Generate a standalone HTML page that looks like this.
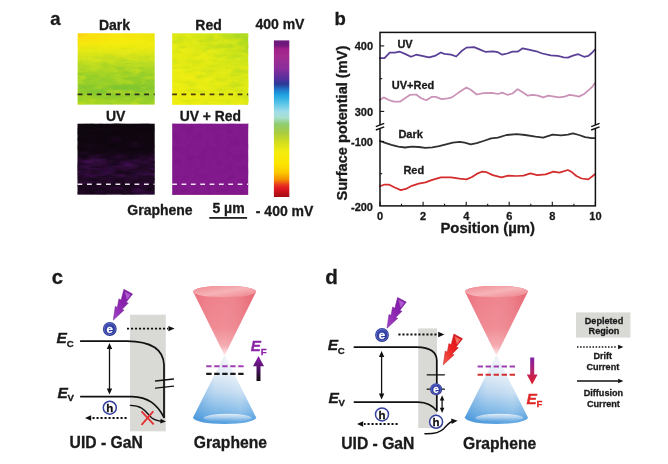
<!DOCTYPE html>
<html><head><meta charset="utf-8"><title>Figure</title>
<style>
html,body{margin:0;padding:0;background:#fff;}
body{width:668px;height:464px;overflow:hidden;}
svg{display:block;}
svg text{font-family:"Liberation Sans",sans-serif;font-weight:bold;fill:#1a1a1a;stroke:#1a1a1a;stroke-width:0.3px;}
</style></head><body>
<svg width="668" height="464" viewBox="0 0 668 464">
<defs>
<linearGradient id="gDark" x1="0" y1="0" x2="0" y2="1">
<stop offset="0" stop-color="#fbe60c"/><stop offset="0.14" stop-color="#f5ee0c"/><stop offset="0.26" stop-color="#e2e816"/><stop offset="0.42" stop-color="#bcdc22"/><stop offset="0.62" stop-color="#98d02a"/><stop offset="0.82" stop-color="#86c830"/><stop offset="1" stop-color="#a2d426"/>
</linearGradient>
<linearGradient id="gDarkL" x1="0" y1="0" x2="1" y2="0">
<stop offset="0" stop-color="#ffc818" stop-opacity="0.75"/><stop offset="0.5" stop-color="#ffd818" stop-opacity="0.15"/><stop offset="1" stop-color="#c0e020" stop-opacity="0.25"/>
</linearGradient>
<linearGradient id="gDarkFade" x1="0" y1="0" x2="0" y2="1">
<stop offset="0" stop-color="#fff" stop-opacity="1"/><stop offset="0.22" stop-color="#fff" stop-opacity="0"/>
</linearGradient>
<linearGradient id="gDarkFadeG" x1="0" y1="0" x2="0" y2="1"><stop offset="0" stop-color="#fff" stop-opacity="0"/><stop offset="0.18" stop-color="#fff" stop-opacity="0.1"/><stop offset="0.45" stop-color="#fff" stop-opacity="1"/><stop offset="1" stop-color="#fff" stop-opacity="1"/></linearGradient>
<mask id="mDarkG"><rect x="77.7" y="33.3" width="77" height="71.3" fill="url(#gDarkFadeG)"/></mask>
<mask id="mDark"><rect x="77.7" y="33.3" width="77" height="71.3" fill="url(#gDarkFade)"/></mask>
<linearGradient id="gRed" x1="0" y1="1" x2="1" y2="0">
<stop offset="0" stop-color="#f0ee10"/><stop offset="0.45" stop-color="#e2ea14"/><stop offset="0.82" stop-color="#cce41a"/><stop offset="1" stop-color="#a0d626"/>
</linearGradient>
<linearGradient id="gUV" x1="0" y1="0" x2="0" y2="1">
<stop offset="0" stop-color="#0e070e"/><stop offset="0.38" stop-color="#110711"/><stop offset="0.56" stop-color="#220a28"/><stop offset="0.76" stop-color="#240a2a"/><stop offset="0.9" stop-color="#19081c"/><stop offset="1" stop-color="#1f0923"/>
</linearGradient>
<linearGradient id="gBar" x1="0" y1="0" x2="0" y2="1">
<stop offset="0" stop-color="#6a1a7a"/><stop offset="0.03" stop-color="#72187c"/><stop offset="0.055" stop-color="#a0208a"/><stop offset="0.10" stop-color="#a42c90"/><stop offset="0.18" stop-color="#8a2e9c"/><stop offset="0.24" stop-color="#5a2e9e"/><stop offset="0.28" stop-color="#2a3c98"/><stop offset="0.315" stop-color="#2078cc"/><stop offset="0.35" stop-color="#20a4e0"/><stop offset="0.405" stop-color="#5cc6e8"/><stop offset="0.455" stop-color="#a0dce8"/><stop offset="0.492" stop-color="#a8e0d0"/><stop offset="0.535" stop-color="#90cc70"/><stop offset="0.59" stop-color="#a8cc40"/><stop offset="0.645" stop-color="#d0dc20"/><stop offset="0.71" stop-color="#f4ec10"/><stop offset="0.79" stop-color="#fce400"/><stop offset="0.845" stop-color="#fcc800"/><stop offset="0.888" stop-color="#f49000"/><stop offset="0.922" stop-color="#e83820"/><stop offset="0.945" stop-color="#e01820"/><stop offset="0.98" stop-color="#b81018"/><stop offset="1" stop-color="#a80c14"/>
</linearGradient>
<filter id="nzY" x="0" y="0" width="1" height="1" color-interpolation-filters="sRGB"><feTurbulence type="fractalNoise" baseFrequency="0.07 0.2" numOctaves="3" seed="4"/><feColorMatrix type="matrix" values="0 0 0 0 0.96  0 0 0 0 0.95  0 0 0 0 0.08  2.6 0 0 0 -1.15"/></filter>
<filter id="nzG" x="0" y="0" width="1" height="1" color-interpolation-filters="sRGB"><feTurbulence type="fractalNoise" baseFrequency="0.07 0.2" numOctaves="3" seed="11"/><feColorMatrix type="matrix" values="0 0 0 0 0.42  0 0 0 0 0.74  0 0 0 0 0.2  2.4 0 0 0 -1.15"/></filter>
<filter id="nzP" x="0" y="0" width="1" height="1" color-interpolation-filters="sRGB"><feTurbulence type="fractalNoise" baseFrequency="0.06 0.22" numOctaves="3" seed="7"/><feColorMatrix type="matrix" values="0 0 0 0 0.36  0 0 0 0 0.07  0 0 0 0 0.46  3.0 0 0 0 -1.3"/></filter>
<filter id="nzK" x="0" y="0" width="1" height="1" color-interpolation-filters="sRGB"><feTurbulence type="fractalNoise" baseFrequency="0.08 0.25" numOctaves="3" seed="19"/><feColorMatrix type="matrix" values="0 0 0 0 0.04  0 0 0 0 0.02  0 0 0 0 0.05  2.6 0 0 0 -1.1"/></filter>
<filter id="nzV" x="0" y="0" width="1" height="1" color-interpolation-filters="sRGB"><feTurbulence type="fractalNoise" baseFrequency="0.15 0.15" numOctaves="2" seed="5"/><feColorMatrix type="matrix" values="0 0 0 0 0.42  0 0 0 0 0.06  0 0 0 0 0.48  1.6 0 0 0 -0.7"/></filter>
<linearGradient id="gUVm" x1="0" y1="0" x2="0" y2="1"><stop offset="0" stop-color="#fff" stop-opacity="0.08"/><stop offset="0.38" stop-color="#fff" stop-opacity="0.2"/><stop offset="0.55" stop-color="#fff" stop-opacity="1"/><stop offset="0.8" stop-color="#fff" stop-opacity="0.8"/><stop offset="1" stop-color="#fff" stop-opacity="0.7"/></linearGradient>
<mask id="mUV"><rect x="77.5" y="123.7" width="77.2" height="70.9" fill="url(#gUVm)"/></mask>
<filter id="soft" x="0" y="0" width="668" height="464" filterUnits="userSpaceOnUse" color-interpolation-filters="sRGB"><feGaussianBlur stdDeviation="0.45"/></filter>
<filter id="blurS" x="-10%" y="-30%" width="120%" height="160%"><feGaussianBlur stdDeviation="0.7"/></filter>
<filter id="blur2" x="-20%" y="-20%" width="140%" height="140%"><feGaussianBlur stdDeviation="2.2"/></filter>
<filter id="blur1" x="-20%" y="-20%" width="140%" height="140%"><feGaussianBlur stdDeviation="1.2"/></filter>
<clipPath id="cDark"><rect x="77.7" y="33.3" width="77" height="71.3"/></clipPath>
<clipPath id="cRed"><rect x="172.2" y="33.3" width="76" height="71.5"/></clipPath>
<clipPath id="cUV"><rect x="77.5" y="123.7" width="77.2" height="70.9"/></clipPath>

<linearGradient id="gConeR" x1="0" y1="0" x2="0" y2="1">
<stop offset="0" stop-color="#ec727e"/><stop offset="0.6" stop-color="#ee7e88"/><stop offset="0.86" stop-color="#f4a2a8"/><stop offset="1" stop-color="#fdeeee"/>
</linearGradient>
<linearGradient id="gConeRh" x1="0" y1="0" x2="1" y2="0">
<stop offset="0" stop-color="#e45868" stop-opacity="0.25"/><stop offset="0.4" stop-color="#ffffff" stop-opacity="0.1"/><stop offset="1" stop-color="#dc4858" stop-opacity="0.4"/>
</linearGradient>
<linearGradient id="gConeRtop" x1="0" y1="0" x2="1" y2="1">
<stop offset="0" stop-color="#f08890"/><stop offset="0.5" stop-color="#f6b4b8"/><stop offset="1" stop-color="#ee8088"/>
</linearGradient>
<linearGradient id="gConeB" x1="0" y1="0" x2="0" y2="1">
<stop offset="0" stop-color="#fbfafa"/><stop offset="0.3" stop-color="#e9f0f8"/><stop offset="0.55" stop-color="#c2dbf1"/><stop offset="0.8" stop-color="#86bce8"/><stop offset="1" stop-color="#4c9add"/>
</linearGradient>
<linearGradient id="gConeBh" x1="0" y1="0" x2="1" y2="0">
<stop offset="0" stop-color="#2f86d6" stop-opacity="0.45"/><stop offset="0.35" stop-color="#5aa0e0" stop-opacity="0.08"/><stop offset="0.75" stop-color="#ffffff" stop-opacity="0.12"/><stop offset="1" stop-color="#3a8ad8" stop-opacity="0.18"/>
</linearGradient>
<linearGradient id="gConeBbot" x1="0" y1="0" x2="0" y2="1">
<stop offset="0" stop-color="#f4f8fc" stop-opacity="0.95"/><stop offset="0.45" stop-color="#cfe2f4" stop-opacity="0.7"/><stop offset="1" stop-color="#8cc0ea" stop-opacity="0"/>
</linearGradient>
<linearGradient id="gArrUp" x1="0" y1="1" x2="0" y2="0">
<stop offset="0" stop-color="#101010"/><stop offset="0.45" stop-color="#4a1060"/><stop offset="1" stop-color="#9020b0"/>
</linearGradient>
<linearGradient id="gArrDn" x1="0" y1="0" x2="0" y2="1">
<stop offset="0" stop-color="#8020a8"/><stop offset="0.45" stop-color="#b02470"/><stop offset="1" stop-color="#e41c24"/>
</linearGradient>
<linearGradient id="gBoltP" x1="1" y1="0" x2="0" y2="1">
<stop offset="0" stop-color="#7c1ea4"/><stop offset="0.5" stop-color="#8a22ae"/><stop offset="1" stop-color="#a444c8"/>
</linearGradient>
<linearGradient id="gBoltR" x1="1" y1="0" x2="0" y2="1">
<stop offset="0" stop-color="#d01018"/><stop offset="0.5" stop-color="#ec2020"/><stop offset="1" stop-color="#f06050"/>
</linearGradient>
<radialGradient id="gE" cx="0.4" cy="0.35" r="0.7">
<stop offset="0" stop-color="#3c4cb4"/><stop offset="1" stop-color="#26328e"/>
</radialGradient>

<g id="cone">
  <!-- upper red cone, centered at x=0, apex y=355 -->
  <path d="M-31.5,291.6 L0,355.4 L31.5,291.6 A31.5,5.7 0 0 0 -31.5,291.6 Z" fill="url(#gConeR)"/>
  <path d="M-31.5,291.6 L0,355.4 L31.5,291.6 A31.5,5.7 0 0 0 -31.5,291.6 Z" fill="url(#gConeRh)"/>
  <ellipse cx="0" cy="291.6" rx="31.5" ry="5.7" fill="url(#gConeRtop)"/>
  <!-- lower blue cone -->
  <path d="M0,354.8 L-31.5,417.6 A31.5,6.4 0 0 0 31.5,417.6 Z" fill="url(#gConeB)"/>
  <path d="M0,354.8 L-31.5,417.6 A31.5,6.4 0 0 0 31.5,417.6 Z" fill="url(#gConeBh)"/>
  <ellipse cx="3" cy="418" rx="24" ry="4.2" fill="url(#gConeBbot)" filter="url(#blurS)" opacity="0.9"/>
</g>
<path id="bolt" d="M0,0 L2.0,-13.8 L4.0,-12.6 L5.6,-21.2 L7.8,-20 L10.6,-30.8 L19.3,-26.1 L12.8,-17.8 L15.0,-17.0 L8.6,-10.6 L10.8,-10.0 Z"/>
<path id="bolthl" d="M11.4,-28.6 L17.4,-25.4 L13.6,-20.4 Z"/>
<g id="elec"><circle r="6.9" fill="url(#gE)"/><circle r="5.6" fill="none" stroke="#8a96e0" stroke-width="0.7" opacity="0.7"/><text x="0" y="3.9" text-anchor="middle" font-size="11.5" style="fill:#fff;stroke:#fff">e</text></g>
<g id="hole"><circle r="6.5" fill="#fff" stroke="#34409e" stroke-width="1.5"/><text x="0" y="4.2" text-anchor="middle" font-size="11.5" style="fill:#111;stroke:#111">h</text></g>
<path id="ah" d="M0,0 L-6.2,-2.7 L-6.2,2.7 Z" fill="#111"/>
</defs>

<rect width="668" height="464" fill="#fff"/>
<g filter="url(#soft)">

<!-- ===== panel a ===== -->
<text x="50.2" y="25" font-size="18.5">a</text>
<text x="114.5" y="30" font-size="14" text-anchor="middle">Dark</text>
<text x="208.5" y="30" font-size="14" text-anchor="middle">Red</text>
<text x="115.7" y="121.4" font-size="14" text-anchor="middle">UV</text>
<text x="210.4" y="121.4" font-size="13.9" text-anchor="middle">UV + Red</text>
<text x="255.4" y="28.8" font-size="14">400 mV</text>
<text x="127.3" y="215.4" font-size="14">Graphene</text>
<text x="212.4" y="212.7" font-size="14">5 µm</text>
<rect x="209.3" y="217" width="37.8" height="1.8" fill="#222"/>
<text x="255.8" y="215.6" font-size="14">- 400 mV</text>

<!-- Dark -->
<rect x="77.7" y="33.3" width="77" height="71.3" fill="url(#gDark)"/>
<rect x="77.7" y="33.3" width="77" height="71.3" fill="url(#gDarkL)" mask="url(#mDark)"/>
<g clip-path="url(#cDark)" filter="url(#blur2)" opacity="0.55">
<ellipse cx="92" cy="58" rx="14" ry="2.2" fill="#e0e820"/><ellipse cx="128" cy="52" rx="12" ry="2" fill="#e4ea20"/><ellipse cx="112" cy="69" rx="10" ry="2" fill="#c8e020"/><ellipse cx="140" cy="75" rx="12" ry="2.2" fill="#78c434"/><ellipse cx="98" cy="82" rx="12" ry="2" fill="#a8d828"/><ellipse cx="126" cy="88" rx="14" ry="2.5" fill="#74c236"/><ellipse cx="90" cy="100" rx="10" ry="2" fill="#b8dc20"/>
</g>
<rect x="77.7" y="33.3" width="77" height="71.3" filter="url(#nzY)" opacity="0.38"/>
<g mask="url(#mDarkG)"><rect x="77.7" y="33.3" width="77" height="71.3" filter="url(#nzG)" opacity="0.32"/></g>
<line x1="77.7" y1="94.3" x2="154.7" y2="94.3" stroke="#2c3018" stroke-width="1.7" stroke-dasharray="4.8 4.7"/>

<!-- Red -->
<rect x="172.2" y="33.3" width="76" height="71.5" fill="url(#gRed)"/>
<g clip-path="url(#cRed)" filter="url(#blur2)" opacity="0.6">
<ellipse cx="186" cy="50" rx="8" ry="3" fill="#f2ee18"/><ellipse cx="205" cy="60" rx="9" ry="3" fill="#eeee18"/><ellipse cx="190" cy="77" rx="10" ry="3" fill="#f4ee14"/><ellipse cx="224" cy="72" rx="8" ry="3" fill="#e8ec18"/><ellipse cx="236" cy="45" rx="10" ry="4" fill="#a4d624"/><ellipse cx="214" cy="41" rx="9" ry="2.5" fill="#c4e01c"/><ellipse cx="236" cy="90" rx="8" ry="3" fill="#cce41c"/><ellipse cx="200" cy="99" rx="12" ry="2.5" fill="#eeee14"/>
</g>
<rect x="172.2" y="33.3" width="76" height="71.5" filter="url(#nzY)" opacity="0.55"/>
<rect x="172.2" y="33.3" width="76" height="71.5" filter="url(#nzG)" opacity="0.22"/>
<line x1="172.2" y1="94.3" x2="248.2" y2="94.3" stroke="#4a3c10" stroke-width="1.7" stroke-dasharray="4.75 4.6"/>

<!-- UV -->
<rect x="77.5" y="123.7" width="77.2" height="70.9" fill="url(#gUV)"/>
<g clip-path="url(#cUV)" filter="url(#blur2)" opacity="0.5">
<ellipse cx="96" cy="160.5" rx="11" ry="3.2" fill="#5a1470"/><ellipse cx="84" cy="170" rx="8" ry="5" fill="#3c0e4a"/><ellipse cx="128" cy="166" rx="12" ry="3" fill="#43104f"/><ellipse cx="146" cy="160" rx="7" ry="2.5" fill="#4a1258"/><ellipse cx="116" cy="139" rx="5" ry="1.6" fill="#3a1040"/><ellipse cx="136" cy="144" rx="7" ry="1.8" fill="#32103a"/><ellipse cx="112" cy="168" rx="3" ry="10" fill="#14081a"/><ellipse cx="140" cy="190" rx="10" ry="2.5" fill="#3a0e48"/><ellipse cx="96" cy="190" rx="10" ry="2.5" fill="#300c3a"/>
</g>
<g mask="url(#mUV)"><rect x="77.5" y="123.7" width="77.2" height="70.9" filter="url(#nzP)" opacity="0.42"/></g>
<rect x="77.5" y="123.7" width="77.2" height="70.9" filter="url(#nzK)" opacity="0.5"/>
<line x1="77.5" y1="184.3" x2="154.7" y2="184.3" stroke="#ece4ee" stroke-width="1.6" stroke-dasharray="4.8 4.7"/>

<!-- UV+Red -->
<rect x="172.2" y="123.7" width="76" height="71.2" fill="#82198c"/>
<rect x="172.2" y="123.7" width="76" height="71.2" filter="url(#nzV)" opacity="0.35"/>
<line x1="172.2" y1="184.3" x2="248.2" y2="184.3" stroke="#f0e2f2" stroke-width="1.5" stroke-dasharray="4.75 4.6"/>

<!-- colorbar -->
<rect x="273.9" y="40.4" width="15.4" height="156.6" fill="url(#gBar)"/>

<!-- ===== panel b ===== -->
<text x="334.6" y="24.8" font-size="18.5">b</text>
<g fill="none" stroke-linejoin="round" stroke-linecap="round" stroke-width="1.75">
<polyline points="379.8,58.2 384.5,58.2 389.7,52.7 394.8,52.7 399.9,51.7 405.0,53.9 411.0,56.8 416.1,54.7 422.1,55.9 428.9,57.3 434.9,55.9 440.8,52.5 444.3,53.9 451.1,54.7 456.2,56.5 461.3,51.3 466.4,47.6 474.1,47.1 480.1,49.6 485.2,51.8 492.8,51.3 497.9,52.2 502.2,54.7 507.3,53.5 512.5,51.7 517.6,51.7 522.7,48.3 528.7,49.6 536.3,51.3 542.3,53.5 550.8,55.3 557.7,55.9 563.6,57.3 567.9,57.6 573.0,55.6 578.2,54.2 584.1,56.8 588.4,55.9 591.8,53.0 594.9,49.6" stroke="#5a3f96"/>
<polyline points="379.8,100.0 383.7,97.4 388.8,100.0 393.9,101.7 399.9,101.7 405.0,98.3 410.1,94.8 416.1,94.5 421.2,98.3 426.3,100.3 431.5,96.9 435.7,96.9 441.7,99.1 447.7,98.3 451.9,97.4 457.9,93.1 466.4,87.5 470.7,89.7 476.7,94.5 483.5,93.1 492.0,92.8 497.9,94.0 502.2,92.6 507.3,94.8 512.5,93.5 517.6,89.2 522.7,92.3 527.8,95.7 532.9,94.8 538.0,95.7 543.2,97.4 548.3,95.7 554.3,96.6 559.4,97.4 564.5,96.6 569.6,94.8 574.7,95.7 579.0,96.6 584.1,94.0 589.2,89.7 592.7,86.3 594.9,82.9" stroke="#cb92b8"/>
<polyline points="379.8,141.0 384.5,142.7 391.4,144.9 398.2,146.6 405.0,147.5 411.8,146.6 418.7,147.0 425.5,147.8 432.3,147.3 439.1,146.1 446.0,144.4 452.8,142.7 459.6,141.8 464.7,142.7 470.7,144.4 476.7,143.2 483.5,141.0 491.1,138.4 497.9,137.6 506.5,135.0 516.7,134.2 525.2,135.0 535.5,136.7 543.2,137.6 552.6,134.7 561.1,135.4 567.9,134.7 573.0,133.3 579.0,135.0 585.0,137.1 591.8,138.1 594.9,138.1" stroke="#303030" stroke-width="1.8"/>
<polyline points="379.8,186.2 384.5,184.5 388.8,184.5 394.8,187.5 400.7,190.1 405.9,188.9 411.8,185.8 418.7,183.6 425.5,182.4 432.3,179.9 440.8,177.3 451.1,177.3 459.6,178.7 466.4,179.4 471.6,177.3 476.7,173.9 481.8,171.7 486.5,172.2 492.8,175.1 501.4,177.3 508.2,175.6 516.7,176.0 523.5,175.6 530.4,173.4 537.2,175.1 545.7,174.3 553.4,171.7 559.4,172.6 567.9,170.0 571.3,171.7 576.4,176.0 581.6,178.5 588.4,179.4 594.9,174.3" stroke="#d42c2c"/>
</g>
<rect x="380" y="32.4" width="215.4" height="173.5" fill="none" stroke="#111" stroke-width="1.5"/>
<g stroke="#111" stroke-width="1.1"><line x1="380.0" y1="205.9" x2="380.0" y2="201.70000000000002"/><line x1="401.5" y1="205.9" x2="401.5" y2="203.70000000000002"/><line x1="423.1" y1="205.9" x2="423.1" y2="201.70000000000002"/><line x1="444.6" y1="205.9" x2="444.6" y2="203.70000000000002"/><line x1="466.2" y1="205.9" x2="466.2" y2="201.70000000000002"/><line x1="487.7" y1="205.9" x2="487.7" y2="203.70000000000002"/><line x1="509.2" y1="205.9" x2="509.2" y2="201.70000000000002"/><line x1="530.8" y1="205.9" x2="530.8" y2="203.70000000000002"/><line x1="552.3" y1="205.9" x2="552.3" y2="201.70000000000002"/><line x1="573.9" y1="205.9" x2="573.9" y2="203.70000000000002"/><line x1="595.4" y1="205.9" x2="595.4" y2="201.70000000000002"/><line x1="380" y1="45.9" x2="384.2" y2="45.9"/><line x1="380" y1="78.7" x2="382.2" y2="78.7"/><line x1="380" y1="111.4" x2="384.2" y2="111.4"/><line x1="380" y1="141.4" x2="384.2" y2="141.4"/><line x1="380" y1="173.7" x2="382.2" y2="173.7"/></g>
<!-- axis breaks -->
<g stroke="#fff" stroke-width="2.6"><line x1="380" y1="125" x2="380" y2="128.4"/><line x1="595.4" y1="125" x2="595.4" y2="128.4"/></g>
<g stroke="#111" stroke-width="1.35">
<line x1="375.8" y1="126.6" x2="384.2" y2="123.4"/><line x1="375.8" y1="130" x2="384.2" y2="126.8"/>
<line x1="591.1999999999999" y1="126.6" x2="599.6" y2="123.4"/><line x1="591.1999999999999" y1="130" x2="599.6" y2="126.8"/>
</g>
<g font-size="11">
<text x="373" y="50" text-anchor="end">400</text>
<text x="373" y="116.1" text-anchor="end">300</text>
<text x="373" y="145.6" text-anchor="end">-100</text>
<text x="373" y="211" text-anchor="end">-200</text>
<text x="380.0" y="220.2" text-anchor="middle">0</text><text x="423.1" y="220.2" text-anchor="middle">2</text><text x="466.2" y="220.2" text-anchor="middle">4</text><text x="509.2" y="220.2" text-anchor="middle">6</text><text x="552.3" y="220.2" text-anchor="middle">8</text><text x="595.4" y="220.2" text-anchor="middle">10</text>
<text x="397.4" y="47.9">UV</text>
<text x="391.8" y="88.9">UV+Red</text>
<text x="398.4" y="137.7">Dark</text>
<text x="403.4" y="173.8">Red</text>
</g>
<text x="440.4" y="233.4" font-size="14.9">Position (µm)</text>
<text transform="translate(347.4,200.6) rotate(-90)" font-size="14.6">Surface potential (mV)</text>

<!-- ===== panel c ===== -->
<text x="51.8" y="284" font-size="20.3">c</text>
<rect x="130" y="314.7" width="35.8" height="116.6" fill="#d9d9d6"/>
<use href="#bolt" transform="translate(113.3,320.1)" fill="url(#gBoltP)" stroke="#6c1a92" stroke-width="0.5" stroke-linejoin="round"/><use href="#bolthl" transform="translate(113.3,320.1)" fill="#bc6cdc" opacity="0.75"/>
<use href="#elec" transform="translate(109.8,329)"/>
<line x1="127" y1="328.6" x2="168" y2="328.6" stroke="#111" stroke-width="1.8" stroke-dasharray="2.1 1.9"/>
<use href="#ah" transform="translate(174.6,328.6)"/>
<g fill="none" stroke="#111" stroke-width="1.75" stroke-linejoin="round" stroke-linecap="round">
<path d="M80.8,341.2 L127,341.2 C149,341.4 163.4,348 164,365 L164,417"/>
<path d="M80.8,396.6 L132,396.6 C148,397 157,404 164,417.4"/>
<path d="M130.4,405.4 C144,405.4 146,413 151.5,417.7 C155,420.4 158,421 162,421.2" stroke-width="1.4"/>
<line x1="155.5" y1="381" x2="173.5" y2="379" stroke-width="1.3"/><line x1="155.5" y1="388.2" x2="173.5" y2="386.2" stroke-width="1.3"/>
<line x1="109.5" y1="347" x2="109.5" y2="391" stroke-width="1.3"/>
</g>
<path d="M109.5,343 L106.8,349 L112.2,349 Z M109.5,394.4 L106.8,388.4 L112.2,388.4 Z" fill="#111"/>
<use href="#ah" transform="translate(166,421.4) rotate(3) scale(0.9)"/>
<use href="#hole" transform="translate(109.8,407.7)"/>
<line x1="126.6" y1="418" x2="92" y2="418" stroke="#111" stroke-width="1.8" stroke-dasharray="2.1 1.9"/>
<use href="#ah" transform="translate(85,418) rotate(180)"/>
<g stroke="#e33030" stroke-width="1.8" stroke-linecap="round"><line x1="142" y1="411.8" x2="153.2" y2="423.8"/><line x1="152.8" y1="411.8" x2="142" y2="424.4"/></g>
<text x="56.6" y="343.4" font-size="15.5" font-style="italic">E<tspan font-size="9.6" font-style="normal" dy="3.4" dx="-0.3">C</tspan></text>
<text x="57.4" y="397.6" font-size="15.5" font-style="italic">E<tspan font-size="9.6" font-style="normal" dy="3.4" dx="-0.3">V</tspan></text>
<text x="69.6" y="447.6" font-size="15.7">UID - GaN</text>
<text x="193.8" y="448" font-size="15.7">Graphene</text>
<use href="#cone" transform="translate(224.6,0)"/>
<line x1="206.2" y1="366.2" x2="243.6" y2="366.2" stroke="#a040b4" stroke-width="2.1" stroke-dasharray="5.4 2.6"/>
<line x1="206.2" y1="373.9" x2="243.6" y2="373.9" stroke="#1a1a1a" stroke-width="2.1" stroke-dasharray="5.4 2.6"/>
<path d="M256.5,381 L256.5,366.2 L253,366.2 L258.5,355.9 L264,366.2 L260.5,366.2 L260.5,381 Z" fill="url(#gArrUp)"/>
<text x="250.8" y="351.4" font-size="15.2" font-style="italic" style="fill:#8a24a8;stroke:#8a24a8">E<tspan font-size="9.6" font-style="normal" dy="3.4" dx="-0.3">F</tspan></text>

<!-- ===== panel d ===== -->
<text x="325.2" y="283.8" font-size="20.6">d</text>
<rect x="418.2" y="328.4" width="18.8" height="99.6" fill="#d9d9d6"/>
<use href="#bolt" transform="translate(387,328.2)" fill="url(#gBoltP)" stroke="#6c1a92" stroke-width="0.5" stroke-linejoin="round"/><use href="#bolthl" transform="translate(387,328.2)" fill="#bc6cdc" opacity="0.75"/>
<use href="#bolt" transform="translate(443.3,364.8)" fill="url(#gBoltR)" stroke="#c01018" stroke-width="0.5" stroke-linejoin="round"/><use href="#bolthl" transform="translate(443.3,364.8)" fill="#f88878" opacity="0.8"/>
<use href="#elec" transform="translate(382,335)"/>
<line x1="398.4" y1="334.5" x2="438" y2="334.5" stroke="#111" stroke-width="1.8" stroke-dasharray="2.1 1.9"/>
<use href="#ah" transform="translate(444.4,334.5)"/>
<g fill="none" stroke="#111" stroke-width="1.75" stroke-linejoin="round" stroke-linecap="round">
<path d="M354.4,347.2 L417,347.2 C430,347.4 436.6,351.4 436.8,360.5 L436.8,410.4"/>
<path d="M354.4,402.1 L418,402.1 C427,402.3 432.4,405 436.8,410.8"/>
<line x1="427.2" y1="374.8" x2="444.4" y2="374.8" stroke-width="1.3"/>
<line x1="427.2" y1="389.2" x2="444.4" y2="389.2" stroke-width="1.3"/>
<path d="M424.9,433.8 C434,434 440,432.6 444,428.4 C447.6,424.4 449.6,421.6 453.6,421" stroke-width="1.4"/>
<line x1="381.6" y1="355" x2="381.6" y2="395.4" stroke-width="1.3"/>
<line x1="442.1" y1="399.4" x2="442.1" y2="409" stroke-width="1.3"/>
</g>
<path d="M381.6,351 L378.9,357 L384.3,357 Z M381.6,399.4 L378.9,393.4 L384.3,393.4 Z" fill="#111"/>
<path d="M442.1,395.2 L439.8,400.4 L444.4,400.4 Z M442.1,413 L439.8,407.8 L444.4,407.8 Z" fill="#111"/>
<use href="#ah" transform="translate(457.6,420.8) rotate(-4)"/>
<use href="#elec" transform="translate(436.1,389.2) scale(0.88)"/>
<use href="#hole" transform="translate(436.1,421.8)"/>
<use href="#hole" transform="translate(382,414.4)"/>
<line x1="397.6" y1="424" x2="364" y2="424" stroke="#111" stroke-width="1.8" stroke-dasharray="2.1 1.9"/>
<use href="#ah" transform="translate(357,424) rotate(180)"/>
<text x="327.8" y="350.1" font-size="15.5" font-style="italic">E<tspan font-size="9.6" font-style="normal" dy="3.4" dx="-0.3">C</tspan></text>
<text x="328.4" y="402.5" font-size="15.5" font-style="italic">E<tspan font-size="9.6" font-style="normal" dy="3.4" dx="-0.3">V</tspan></text>
<text x="341.2" y="448.8" font-size="15.7">UID - GaN</text>
<text x="463" y="449" font-size="15.7">Graphene</text>
<use href="#cone" transform="translate(496.4,0)"/>
<line x1="477.6" y1="366.5" x2="515.2" y2="366.5" stroke="#a040b4" stroke-width="2.1" stroke-dasharray="5.4 2.6"/>
<line x1="477.6" y1="374.8" x2="515.2" y2="374.8" stroke="#d43030" stroke-width="2.1" stroke-dasharray="5.4 2.6"/>
<path d="M530.2,357.4 L530.2,374.4 L526.8,374.4 L532.2,384.6 L537.6,374.4 L534.2,374.4 L534.2,357.4 Z" fill="url(#gArrDn)"/>
<text x="526.4" y="403.8" font-size="15.5" font-style="italic" style="fill:#e02828;stroke:#e02828">E<tspan font-size="9.6" font-style="normal" dy="3.4" dx="-0.3">F</tspan></text>

<!-- legend -->
<rect x="576" y="312.4" width="54.4" height="25.2" fill="#d9d9d6"/>
<g font-size="9.1" text-anchor="middle" style="fill:#2a2a2a;stroke:#2a2a2a;stroke-width:0.2px">
<text x="604" y="323.8">Depleted</text>
<text x="604" y="334.2">Region</text>
<text x="602.8" y="359.4">Drift</text>
<text x="602.8" y="370.4">Current</text>
<text x="603.4" y="396">Diffusion</text>
<text x="603.4" y="406.8">Current</text>
</g>
<line x1="577" y1="347" x2="617" y2="347" stroke="#111" stroke-width="1.3" stroke-dasharray="1.5 1.6"/>
<use href="#ah" transform="translate(623.4,347) scale(0.85)"/>
<line x1="577" y1="381" x2="618" y2="381" stroke="#111" stroke-width="1.3"/>
<use href="#ah" transform="translate(623.4,381) scale(0.85)"/>
</g>
</svg>
</body></html>
